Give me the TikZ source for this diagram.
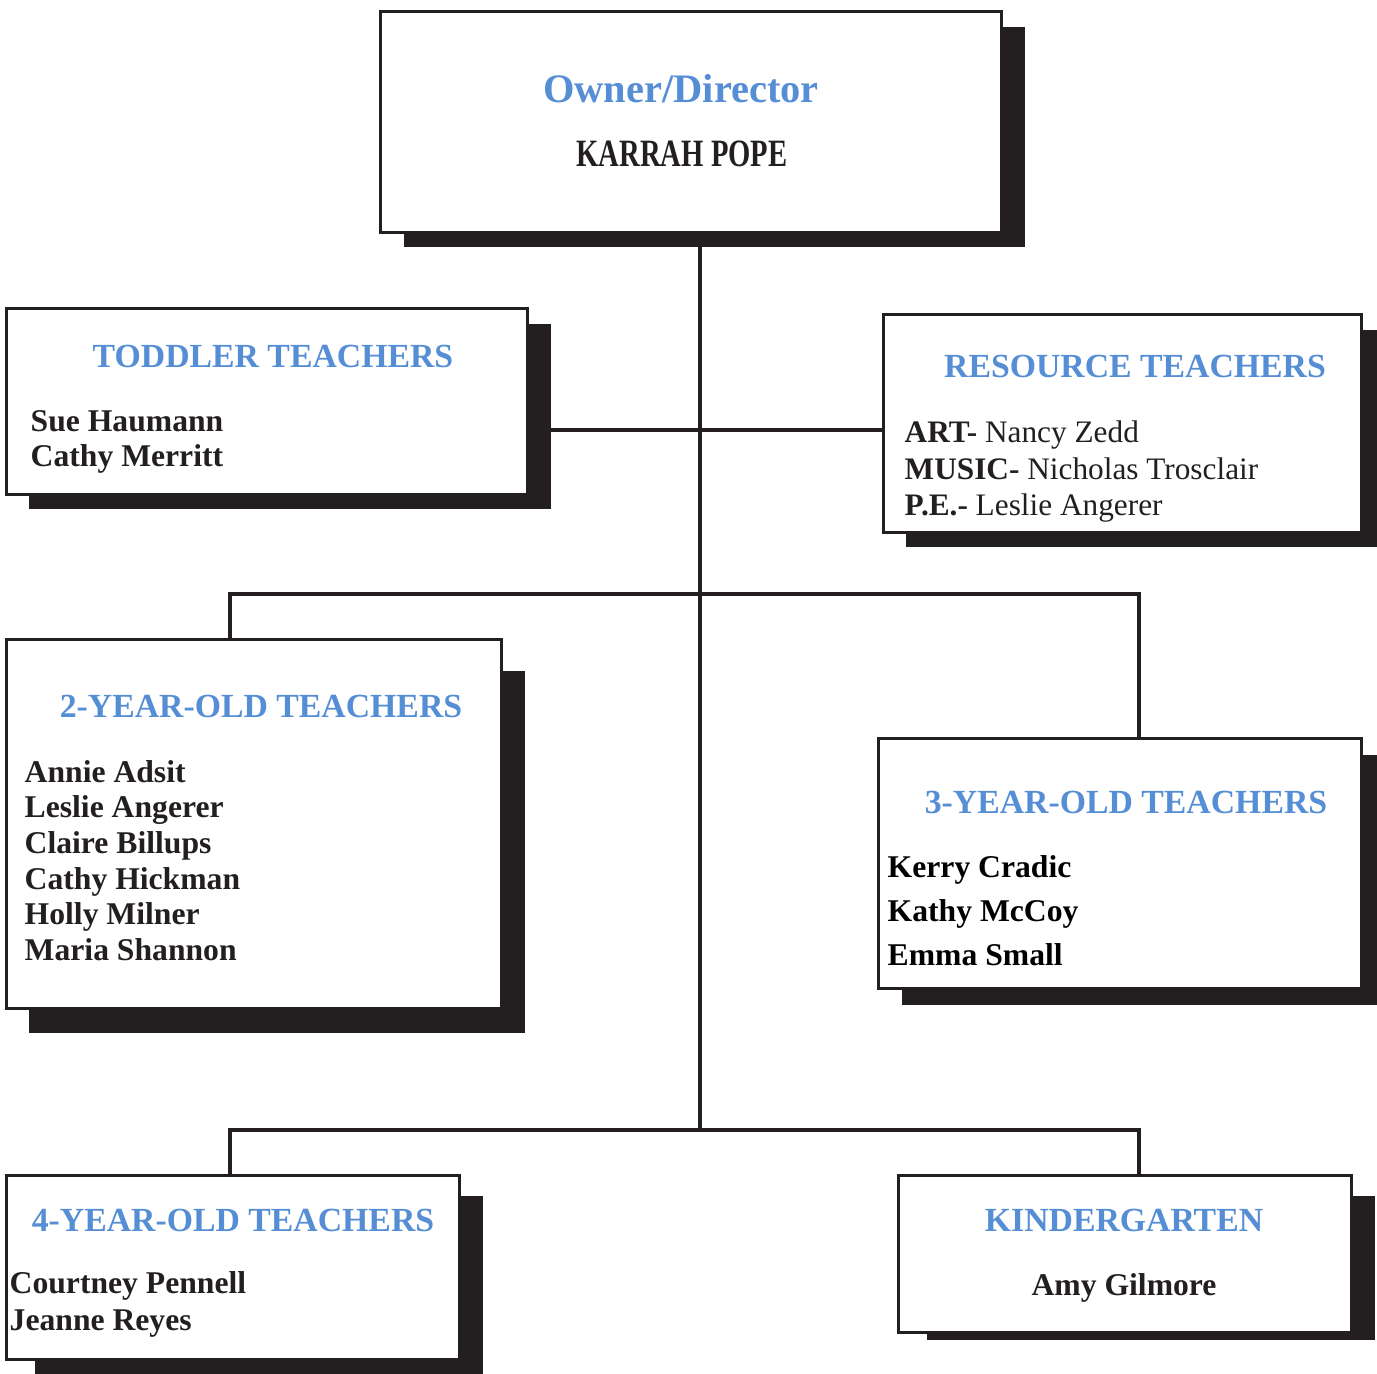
\documentclass[tikz,border=0pt]{standalone}
\usepackage{fontspec}
\setmainfont{Liberation Serif}
\newfontfamily\narrowfont[FakeStretch=0.74]{Liberation Serif}
\definecolor{headblue}{RGB}{85,142,213}
\definecolor{shadowblack}{RGB}{35,31,32}

\begin{document}
\begin{tikzpicture}[x=0.01cm,y=-0.01cm,
    box/.style={draw=shadowblack,line width=0.6pt,fill=white,inner sep=0},
    link/.style={draw=shadowblack,line width=1.3pt},
    head/.style={text=headblue,font=\fontsize{9.6}{11}\selectfont\bfseries,anchor=base,inner sep=0},
    person/.style={text=shadowblack,font=\fontsize{9}{10}\selectfont\bfseries,anchor=base west,inner sep=0}]
    \useasboundingbox (0,0) rectangle (1377,1374);
    % shadows
    \fill[shadowblack] (404,27) rectangle (1025,247);
    \fill[shadowblack] (29,324) rectangle (551,509);
    \fill[shadowblack] (906,330) rectangle (1377,547);
    \fill[shadowblack] (29,671) rectangle (525,1033);
    \fill[shadowblack] (902,755) rectangle (1377,1005);
    \fill[shadowblack] (35,1196) rectangle (483,1380);
    \fill[shadowblack] (927,1196) rectangle (1375,1340);
    \coordinate (j1) at (700,430);
    \coordinate (d2l) at (230,594);
    \coordinate (d2r) at (1139,594);
    \coordinate (d4l) at (230,1130);
    \coordinate (d4r) at (1139,1130);
    \node[box,minimum width=6.20cm,minimum height=2.20cm] (owner) at (691,122) {};
    \node[box,minimum width=5.20cm,minimum height=1.85cm] (toddler) at (267,401.5) {};
    \node[box,minimum width=4.77cm,minimum height=2.17cm] (resource) at (1122.5,423.5) {};
    \node[box,minimum width=4.94cm,minimum height=3.68cm] (twoyr) at (254,824) {};
    \node[box,minimum width=4.82cm,minimum height=2.49cm] (threeyr) at (1120,863.5) {};
    \node[box,minimum width=4.52cm,minimum height=1.83cm] (fouryr) at (233,1267.5) {};
    \node[box,minimum width=4.52cm,minimum height=1.56cm] (kinder) at (1125,1254) {};
    % connectors
    \draw[link] (owner.south -| j1) -- (d4l -| j1);
    \draw[link] (toddler.east |- j1) -- (resource.west |- j1);
    \draw[link] (twoyr.north -| d2l) -- (d2l) -- (d2r) -- (threeyr.north -| d2r);
    \draw[link] (fouryr.north -| d4l) -- (d4l) -- (d4r) -- (kinder.north -| d4r);
    % redraw boxes over line ends
    \foreach \b in {owner,toddler,resource,twoyr,threeyr,fouryr,kinder}
        \draw[shadowblack,line width=0.6pt] (\b.south west) rectangle (\b.north east);
    % texts
    \node[head,font=\fontsize{11.5}{13}\selectfont\bfseries] (ownertitle) at (681,103) {Owner/Director};
    \node[anchor=base,inner sep=0,text=shadowblack,font=\fontsize{11}{13}\narrowfont\bfseries] (ownername) at (682,167) {KARRAH POPE};
    \node[head] (toddlertitle) at (273,368) {TODDLER TEACHERS};
    \foreach \t [count=\i from 0] in {Sue Haumann,Cathy Merritt}
        \node[person] (toddler\i) at (30,432+35*\i) {\t};
    \node[head] (resourcetitle) at (1135,378) {RESOURCE TEACHERS};
    \foreach \t [count=\i from 0] in {{\textbf{ART-} Nancy Zedd},{\textbf{MUSIC-} Nicholas Trosclair},{\textbf{P.E.-} Leslie Angerer}}
        \node[person,font=\fontsize{8.9}{10}\selectfont] (resource\i) at (904,443+36.5*\i) {\t};
    \node[head] (twoyrtitle) at (261,717) {2-YEAR-OLD TEACHERS};
    \foreach \t [count=\i from 0] in {Annie Adsit,Leslie Angerer,Claire Billups,Cathy Hickman,Holly Milner,Maria Shannon}
        \node[person] (twoyr\i) at (24,782+35.7*\i) {\t};
    \node[head] (threeyrtitle) at (1126,813) {3-YEAR-OLD TEACHERS};
    \foreach \t [count=\i from 0] in {Kerry Cradic,Kathy McCoy,Emma Small}
        \node[person,text=black] (threeyr\i) at (887,877+44.2*\i) {\t};
    \node[head] (fouryrtitle) at (233,1231) {4-YEAR-OLD TEACHERS};
    \foreach \t [count=\i from 0] in {Courtney Pennell,Jeanne Reyes}
        \node[person] (fouryr\i) at (9,1293+37*\i) {\t};
    \node[head] (kindertitle) at (1124,1231) {KINDERGARTEN};
    \node[person,anchor=base] (kindername) at (1124,1295) {Amy Gilmore};
\end{tikzpicture}
\end{document}
